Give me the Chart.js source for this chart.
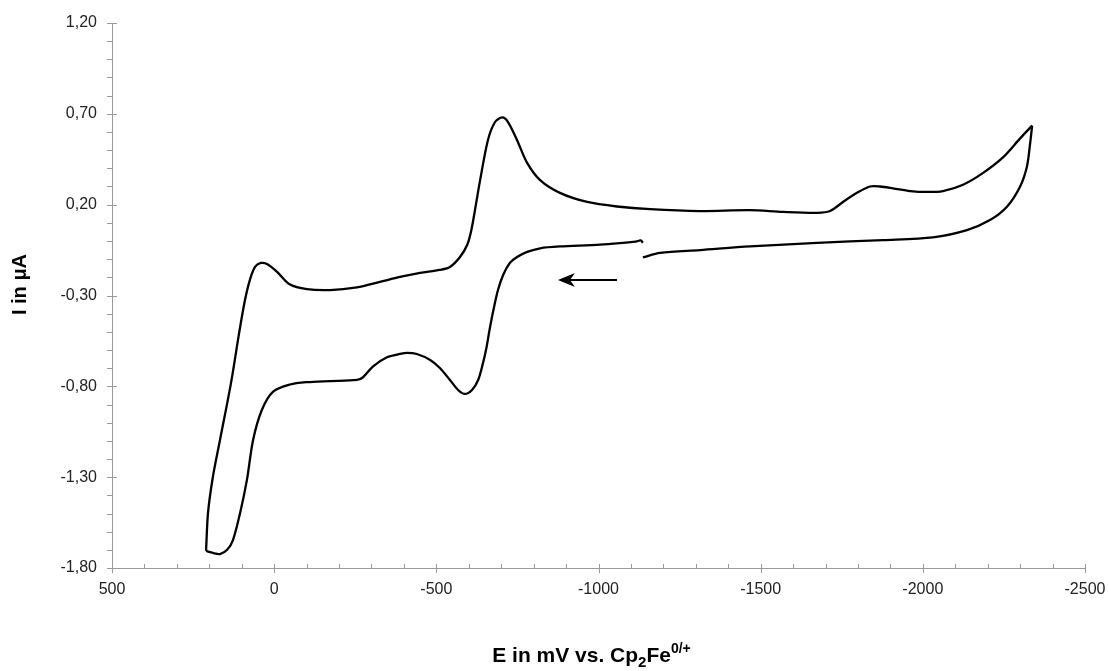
<!DOCTYPE html>
<html>
<head>
<meta charset="utf-8">
<title>Cyclovoltammogramm</title>
<script src="https://cdn.jsdelivr.net/npm/chart.js@4.4.1/dist/chart.umd.min.js"></script>
<style>
  html, body { margin: 0; padding: 0; background: #fff; }
  #wrap { width: 1108px; height: 671px; position: relative; }
</style>
</head>
<body>
<div id="wrap"><canvas id="cvChart"></canvas></div>
<script>
// potential in mV vs. Cp2Fe0/+ in drawing order
const potential = [
  -1137, -1130, -1115, -1005, -881, -820, -780, -749, -727, -706,
  -690, -676, -664, -655, -644, -629, -610, -588, -567, -542,
  -511, -481, -440, -410, -388, -348, -305, -274, -255, -172,
  -100, -49, 4, 38, 65, 84, 105, 127, 145, 167,
  189, 210, 204, 189, 167, 133, 108, 90, 75, 59,
  41, 22, -9, -49, -101, -172, -255, -326, -388, -450,
  -511, -542, -573, -595, -608, -622, -635, -659, -681, -703, -721,
  -749, -780, -820, -881, -965, -1057, -1159, -1313, -1467, -1569,
  -1674, -1714, -1754, -1797, -1837, -1868, -1908, -1961, -2013, -2062,
  -2124, -2186, -2247, -2300, -2337, -2331, -2321, -2300, -2260, -2207,
  -2136, -2031, -1877, -1674, -1467, -1313, -1190, -1137
];
// current in µA, same order
const current = [
  -0.01, 0.003, -0.003, -0.02, -0.03, -0.04, -0.06, -0.088, -0.12, -0.187,
  -0.27, -0.38, -0.49, -0.583, -0.671, -0.765, -0.82, -0.842, -0.82, -0.765,
  -0.699, -0.655, -0.622, -0.616, -0.622, -0.64, -0.69, -0.75, -0.765, -0.771,
  -0.777, -0.79, -0.83, -0.93, -1.095, -1.315, -1.497, -1.646, -1.70, -1.723,
  -1.717, -1.706, -1.497, -1.299, -1.095, -0.781, -0.506, -0.325, -0.215, -0.143,
  -0.121, -0.127, -0.17, -0.24, -0.265, -0.27, -0.255, -0.225, -0.198, -0.176,
  -0.159, -0.143, -0.088, -0.022, 0.061, 0.20, 0.335, 0.555, 0.655, 0.68, 0.655,
  0.555, 0.43, 0.335, 0.265, 0.215, 0.19, 0.175, 0.165, 0.17, 0.16,
  0.155, 0.165, 0.215, 0.265, 0.30, 0.30, 0.29, 0.275, 0.27, 0.275,
  0.31, 0.375, 0.46, 0.565, 0.635, 0.54, 0.41, 0.30, 0.19, 0.115,
  0.06, 0.02, 0.005, -0.01, -0.03, -0.05, -0.065, -0.09
];

// scan direction arrow (tail -> tip)
const arrowE = [-1057, -875];
const arrowI = [-0.215, -0.215];

const xTickValues = [500, 0, -500, -1000, -1500, -2000, -2500];
const yTickValues = [-1.8, -1.3, -0.8, -0.3, 0.2, 0.7, 1.2];

const axisColor = "#9a9a9a";
const fontFamily = "'Liberation Sans', Arial, sans-serif";

Chart.defaults.font.family = fontFamily;

// split the loop at the two switching points so the corners stay sharp
const turnLeft = potential.indexOf(Math.max(...potential));
const turnRight = potential.indexOf(Math.min(...potential));
const points = potential.map((e, i) => ({ x: e, y: current[i] }));
const segments = [
  points.slice(0, turnLeft + 1),
  points.slice(turnLeft, turnRight + 1),
  points.slice(turnRight)
];

// minor / major tick marks like the original axes
const tickMarks = {
  id: "tickMarks",
  afterDraw(chart) {
    const { ctx, chartArea, scales: { x, y } } = chart;
    ctx.save();
    ctx.strokeStyle = axisColor;
    ctx.lineWidth = 1;
    ctx.beginPath();
    const xs = xTickValues[0], xe = xTickValues[xTickValues.length - 1];
    for (let v = xs; v >= xe; v -= 100) {
      const px = Math.round(x.getPixelForValue(v)) + 0.5;
      const major = xTickValues.includes(v);
      ctx.moveTo(px, chartArea.bottom - 4);
      ctx.lineTo(px, chartArea.bottom + (major ? 5 : 0));
    }
    const ys = yTickValues[0], ye = yTickValues[yTickValues.length - 1];
    const nY = Math.round((ye - ys) / 0.1);
    for (let k = 0; k <= nY; k++) {
      const v = ys + k * 0.1;
      const py = Math.round(y.getPixelForValue(v)) + 0.5;
      const major = k % 5 === 0;
      ctx.moveTo(chartArea.left - 5, py);
      ctx.lineTo(chartArea.left + (major ? 5 : 0), py);
    }
    ctx.stroke();
    ctx.restore();
  }
};

// arrow for the scan direction
const scanArrow = {
  id: "scanArrow",
  afterDatasetsDraw(chart) {
    const { ctx, scales: { x, y } } = chart;
    const x0 = x.getPixelForValue(arrowE[0]);
    const y0 = y.getPixelForValue(arrowI[0]);
    const x1 = x.getPixelForValue(arrowE[1]);
    const y1 = y.getPixelForValue(arrowI[1]);
    const ang = Math.atan2(y1 - y0, x1 - x0);
    ctx.save();
    ctx.strokeStyle = "#000";
    ctx.fillStyle = "#000";
    ctx.lineWidth = 2;
    ctx.beginPath();
    ctx.moveTo(x0, y0);
    ctx.lineTo(x1 - 10 * Math.cos(ang), y1 - 10 * Math.sin(ang));
    ctx.stroke();
    ctx.translate(x1, y1);
    ctx.rotate(ang);
    ctx.beginPath();
    ctx.moveTo(0, 0);
    ctx.lineTo(-17, -7);
    ctx.lineTo(-12, 0);
    ctx.lineTo(-17, 7);
    ctx.closePath();
    ctx.fill();
    ctx.restore();
  }
};

// axis titles (x one has subscript and superscript)
const xTitleParts = [
  { text: "E in mV vs. Cp", size: 21, dy: 0 },
  { text: "2", size: 15, dy: 5 },
  { text: "Fe", size: 21, dy: 0 },
  { text: "0/+", size: 14, dy: -9 }
];
const axisTitles = {
  id: "axisTitles",
  afterDraw(chart) {
    const { ctx, chartArea } = chart;
    ctx.save();
    ctx.fillStyle = "#000";
    ctx.textBaseline = "alphabetic";
    let total = 0;
    xTitleParts.forEach((p) => {
      ctx.font = "bold " + p.size + "px " + fontFamily;
      p.w = ctx.measureText(p.text).width;
      total += p.w;
    });
    let cx = (chartArea.left + chartArea.right) / 2 - 7 - total / 2;
    const base = chartArea.bottom + 94;
    xTitleParts.forEach((p) => {
      ctx.font = "bold " + p.size + "px " + fontFamily;
      ctx.fillText(p.text, cx, base + p.dy);
      cx += p.w;
    });

    // y title, rotated
    ctx.font = "bold 20px " + fontFamily;
    ctx.textAlign = "center";
    ctx.textBaseline = "middle";
    ctx.translate(20, (chartArea.top + chartArea.bottom) / 2 - 11);
    ctx.rotate(-Math.PI / 2);
    ctx.fillText("I in μA", 0, 0);
    ctx.restore();
  }
};

const ctx = document.getElementById("cvChart").getContext("2d");
new Chart(ctx, {
  type: "scatter",
  data: {
    datasets: segments.map((seg) => ({
      data: seg,
      showLine: true,
      borderColor: "#000",
      borderWidth: 2.3,
      pointRadius: 0,
      tension: 0.3,
      fill: false
    }))
  },
  options: {
    responsive: true,
    maintainAspectRatio: false,
    animation: false,
    layout: { padding: { top: 23, right: 23, left: 0, bottom: 0 } },
    plugins: {
      legend: { display: false },
      tooltip: { enabled: false }
    },
    scales: {
      x: {
        type: "linear",
        reverse: true,
        min: -2500,
        max: 500,
        afterBuildTicks: (scale) => {
          scale.ticks = xTickValues.map((v) => ({ value: v }));
        },
        afterFit: (scale) => {
          scale.height = 103;
          scale.paddingLeft = 0;
          scale.paddingRight = 0;
        },
        grid: { display: false, drawTicks: false },
        border: { display: true, color: axisColor, width: 1 },
        ticks: {
          padding: 12,
          color: "#222",
          font: { size: 16 },
          maxRotation: 0,
          callback: (v) => String(v)
        }
      },
      y: {
        type: "linear",
        min: -1.8,
        max: 1.2,
        afterBuildTicks: (scale) => {
          scale.ticks = yTickValues.map((v) => ({ value: v }));
        },
        afterFit: (scale) => {
          scale.width = 112;
          scale.paddingTop = 0;
          scale.paddingBottom = 0;
        },
        grid: { display: false, drawTicks: false },
        border: { display: true, color: axisColor, width: 1 },
        ticks: {
          padding: 15,
          color: "#222",
          font: { size: 16 },
          callback: (v) => v.toFixed(2).replace(".", ",")
        }
      }
    }
  },
  plugins: [tickMarks, scanArrow, axisTitles]
});
</script>
</body>
</html>
